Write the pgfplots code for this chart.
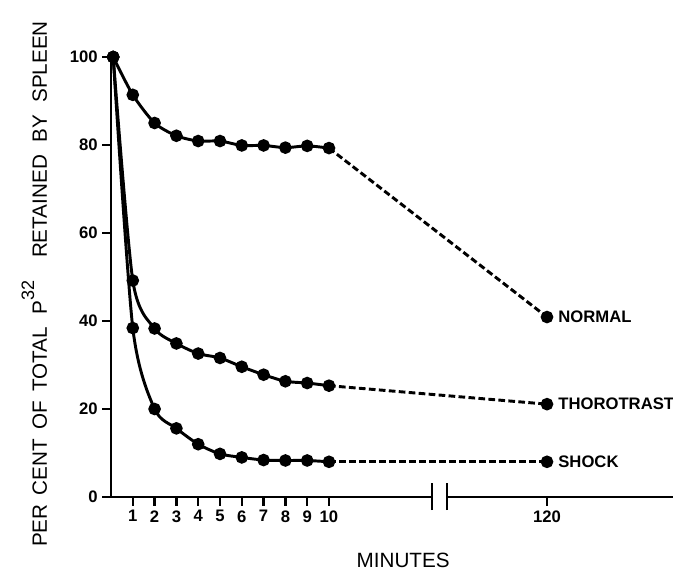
\documentclass[border=0pt]{standalone}
\usepackage{fontspec}
\setmainfont{Liberation Sans}
\usepackage{pgfplots}
\pgfplotsset{compat=1.18}

% minutes 1..10 sit at 1..10, the 120-minute reading is drawn at 20 (after the axis break)
\pgfplotstableread{
x    y
0.1  100
1    91.4
2    85.0
3    82.1
4    80.9
5    80.9
6    79.9
7    79.9
8    79.4
9    79.8
10   79.3
}\normal
\pgfplotstableread{
x    y
0.1  100
1    49.2
2    38.3
3    34.9
4    32.6
5    31.6
6    29.6
7    27.8
8    26.3
9    25.9
10   25.3
}\thoro
\pgfplotstableread{
x    y
0.1  100
1    38.4
2    20.0
3    15.6
4    12.0
5    9.8
6    9.0
7    8.4
8    8.3
9    8.3
10   8.0
}\shock

\begin{document}
\begin{tikzpicture}
\begin{axis}[
    at={(0,0)}, anchor=south west,
    scale only axis,
    width=421.5pt, height=330pt,
    xmin=0, xmax=25.78,
    ymin=0, ymax=100,
    axis x line=bottom, axis y line=left,
    axis line style={line width=2.1pt, -},
    xtick={1,2,...,10,20},
    xticklabels={1,2,3,4,5,6,7,8,9,10,120},
    ytick={0,20,...,100},
    tick align=outside,
    major tick length=6.5pt,
    tick style={line width=1.7pt, black},
    /pgf/number format/assume math mode=true,
    ticklabel style={font=\fontsize{12.5}{14}\selectfont\bfseries},
    xlabel={MINUTES},
    xlabel style={at={(axis cs:13.4,-16.1)}, anchor=base, font=\fontsize{15.5}{18}\selectfont},
    ylabel={PER\hspace{0.45em}CENT\hspace{0.45em}OF\hspace{0.45em}TOTAL\hspace{0.6em}P\raisebox{0.62em}{\fontsize{13.5}{15}\selectfont 32}\hspace{1.1em}RETAINED\hspace{0.6em}BY\hspace{0.6em}SPLEEN},
    ylabel style={at={(axis cs:-2.94,48.4)}, anchor=base, font=\fontsize{15.5}{18}\selectfont},
    clip=false,
]
\addplot[black, line width=2.2pt, smooth, tension=0.45, mark=*, mark size=3.6pt] table {\normal};
\addplot[black, line width=2.2pt, smooth, tension=0.45, mark=*, mark size=3.6pt] table {\thoro};
\addplot[black, line width=2.2pt, smooth, tension=0.45, mark=*, mark size=3.6pt] table {\shock};

\addplot[black, line width=2.2pt, dash pattern=on 5pt off 2.5pt, mark=*, mark size=3.6pt, mark options={solid}, mark indices={2}] coordinates {(10,79.3) (20,40.9)};
\addplot[black, line width=2.2pt, dash pattern=on 5pt off 2.5pt, mark=*, mark size=3.6pt, mark options={solid}, mark indices={2}] coordinates {(10,25.3) (20,21.1)};
\addplot[black, line width=2.2pt, dash pattern=on 5pt off 2.5pt, mark=*, mark size=3.6pt, mark options={solid}, mark indices={2}] coordinates {(10,8.0) (20,8.0)};

\node[anchor=west, xshift=5pt, font=\fontsize{12.5}{14}\selectfont\bfseries] at (axis cs:20,40.9) {NORMAL};
\node[anchor=west, xshift=5pt, font=\fontsize{12.5}{14}\selectfont\bfseries] at (axis cs:20,21.1) {THOROTRAST};
\node[anchor=west, xshift=5pt, font=\fontsize{12.5}{14}\selectfont\bfseries] at (axis cs:20,8.0) {SHOCK};

% axis break
\fill[white] (axis cs:14.72,-1.3) rectangle (axis cs:15.41,1.3);
\draw[line width=1.7pt] (axis cs:14.72,-3) -- (axis cs:14.72,3.2);
\draw[line width=1.7pt] (axis cs:15.41,-3) -- (axis cs:15.41,3.2);
\end{axis}
\pgfresetboundingbox
\path (-83.25pt,-55.5pt) rectangle (421.5pt,372.75pt);
\end{tikzpicture}
\end{document}
